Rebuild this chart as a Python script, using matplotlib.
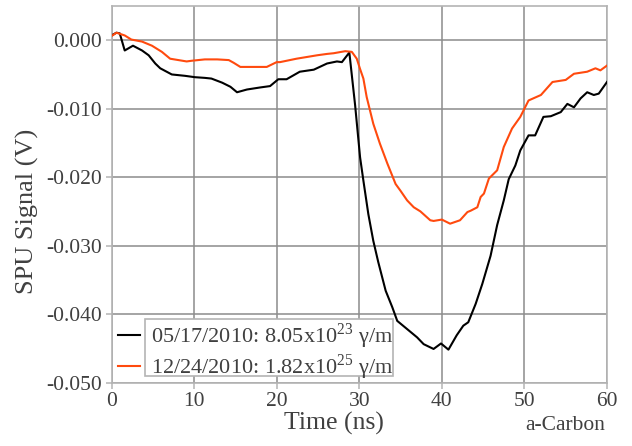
import matplotlib
matplotlib.use("Agg")
import matplotlib.pyplot as plt
from matplotlib.patches import Rectangle

# ---- data (time in ns, signal in V) ----
black_t = [0, 0.6, 1.0, 1.6, 2.6, 3.7, 4.5, 5.3, 5.9, 7.3, 8.9, 10.1, 11.3, 12.1, 13.4,
           14.4, 15.2, 16.4, 18.0, 19.2, 20.2, 21.2, 22.8, 24.5, 26.1, 27.3, 27.9, 28.8,
           29.5, 30.1, 30.5, 31.1, 31.7, 32.3, 33.2, 34.0, 34.6, 35.8, 37.0, 37.8, 39.0,
           39.9, 40.8, 41.8, 42.6, 43.2, 44.1, 44.9, 45.9, 46.7, 47.5, 48.1, 48.9, 49.5,
           50.5, 51.3, 52.3, 53.2, 54.4, 55.2, 56.0, 56.8, 57.6, 58.4, 59.0, 60.0]
black_v = [0.0007, 0.0011, 0.0010, -0.0015, -0.0008, -0.0015, -0.0022, -0.0034, -0.0041,
           -0.0050, -0.0052, -0.0054, -0.0055, -0.0056, -0.0062, -0.0068, -0.0076, -0.0072,
           -0.0069, -0.0067, -0.0057, -0.0057, -0.0046, -0.0043, -0.0034, -0.0031, -0.0032,
           -0.0018, -0.0095, -0.0171, -0.0205, -0.0254, -0.0293, -0.0324, -0.0366, -0.0390,
           -0.0410, -0.0422, -0.0434, -0.0444, -0.0451, -0.0443, -0.0452, -0.0431, -0.0417,
           -0.0412, -0.0385, -0.0356, -0.0315, -0.0270, -0.0234, -0.0203, -0.0183, -0.0161,
           -0.0139, -0.0139, -0.0112, -0.0111, -0.0105, -0.0093, -0.0098, -0.0085, -0.0076,
           -0.0080, -0.0078, -0.0061]

orange_t = [0, 0.6, 1.6, 2.4, 3.7, 4.9, 6.1, 7.1, 8.1, 9.1, 9.7, 11.3, 12.8, 14.2, 14.8,
            15.6, 17.0, 18.8, 20.0, 20.4, 22.4, 24.9, 26.1, 26.9, 28.3, 29.1, 29.7, 30.1,
            30.5, 30.9, 31.7, 32.5, 33.4, 34.4, 35.0, 35.8, 36.6, 37.4, 38.6, 39.0, 40.0,
            41.0, 42.2, 43.1, 43.5, 44.3, 44.7, 45.1, 45.7, 46.7, 47.5, 48.5, 49.5, 50.5,
            52.0, 53.4, 55.0, 56.0, 57.6, 58.6, 59.2, 60.0]
orange_v = [0.0006, 0.0011, 0.0007, 0.0001, -0.0002, -0.0008, -0.0017, -0.0027, -0.0029,
            -0.0031, -0.0030, -0.0028, -0.0028, -0.0029, -0.0033, -0.0039, -0.0039, -0.0039,
            -0.0032, -0.0032, -0.0027, -0.0022, -0.0020, -0.0019, -0.0016, -0.0017, -0.0027,
            -0.0042, -0.0056, -0.0083, -0.0122, -0.0151, -0.0180, -0.0210, -0.0220, -0.0234,
            -0.0244, -0.0250, -0.0263, -0.0264, -0.0262, -0.0268, -0.0263, -0.0251, -0.0249,
            -0.0244, -0.0229, -0.0224, -0.0202, -0.0190, -0.0156, -0.0129, -0.0112, -0.0088,
            -0.0080, -0.0061, -0.0058, -0.0049, -0.0046, -0.0041, -0.0044, -0.0037]

labels = [r"05/17/2010: 8.05x10$^{\mathregular{23}}$ γ/m",
          r"12/24/2010: 1.82x10$^{\mathregular{25}}$ γ/m"]
x_ticks = [0, 10, 20, 30, 40, 50, 60]
y_ticks = [0.000, -0.010, -0.020, -0.030, -0.040, -0.050]

# ---- style ----
plt.rcParams["font.family"] = ["Liberation Serif", "DejaVu Serif"]
plt.rcParams["mathtext.fontset"] = "custom"
plt.rcParams["mathtext.rm"] = "Liberation Serif"
plt.rcParams["axes.unicode_minus"] = False
TXT = "#404040"
GRID = "#8c8c8c"
SPINE = "#b4b4b4"

W, H = 632, 446
fig = plt.figure(figsize=(W / 100, H / 100), dpi=100)
x0, x1, ytop, ybot = 111.5, 607, 6, 382.5
ax = fig.add_axes([x0 / W, (H - ybot) / H, (x1 - x0) / W, (ybot - ytop) / H])

ax.plot(black_t, black_v, color="black", lw=1.5, label=labels[0], zorder=3)
ax.plot(orange_t, orange_v, color="#ff4a0e", lw=1.5, label=labels[1], zorder=3)

ax.set_xlim(0, 60)
ax.set_ylim(-0.05, 0.005)
ax.set_xticks(x_ticks)
ax.set_yticks(y_ticks)
ax.set_yticklabels([f"{v:.3f}" for v in y_ticks])
ax.grid(True, color=GRID, lw=1.1, zorder=1)
ax.set_axisbelow(True)
for s in ax.spines.values():
    s.set_color(SPINE)
    s.set_linewidth(1.2)
ax.tick_params(axis="both", colors=SPINE, labelcolor=TXT, labelsize=15.5,
               length=4, width=1.1, direction="out")
ax.tick_params(axis="x", pad=3)
ax.tick_params(axis="y", pad=3)

fig.text(27 / W, 1 - 211 / H, "SPU Signal (V)", rotation=90, ha="center", va="center",
         fontsize=19, color=TXT)
fig.text(334 / W, 1 - 423 / H, "Time (ns)", ha="center", va="center",
         fontsize=18.5, color=TXT)
fig.text(605 / W, 1 - 430 / H, "a-Carbon", ha="right", va="baseline",
         fontsize=15.5, color=TXT)

# legend frame (surrounds text only, handles outside)
ax.add_patch(Rectangle((145 / W, 1 - 376 / H), 248 / W, 57 / H, transform=fig.transFigure,
                       facecolor="white", edgecolor=SPINE, lw=1.2, zorder=4, clip_on=False))
leg = ax.legend(loc="upper left", bbox_to_anchor=(118 / W, 1 - 321 / H),
                bbox_transform=fig.transFigure, frameon=False, fontsize=16,
                handlelength=1.0, handletextpad=0.5, borderpad=0, borderaxespad=0,
                labelspacing=0.1)
leg.set_zorder(5)
for t in leg.get_texts():
    t.set_color(TXT)

fig.savefig("out.png", dpi=100)
